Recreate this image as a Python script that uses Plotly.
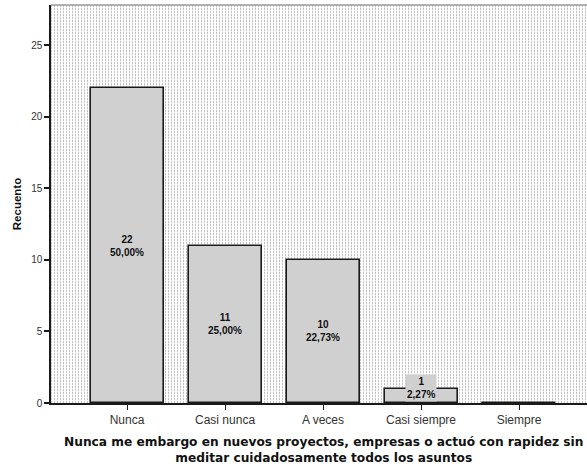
import base64
import plotly.graph_objects as go

categories = ["Nunca", "Casi nunca", "A veces", "Casi siempre", "Siempre"]
counts = [22, 11, 10, 1, 0]
percent_labels = ["50,00%", "25,00%", "22,73%", "2,27%", ""]
y_ticks = [0, 5, 10, 15, 20, 25]

W, H = 587, 466
ML, MT, MB, MR = 51, 5, 63, 0
PW, PH = W - ML - MR, H - MT - MB

# dotted background pattern (decoration)
svg = (
    f'<svg xmlns="http://www.w3.org/2000/svg" width="{PW}" height="{PH}" shape-rendering="crispEdges">'
    '<defs><pattern id="p" width="3" height="3" patternUnits="userSpaceOnUse">'
    '<rect width="3" height="3" fill="#ffffff"/>'
    '<rect x="0" y="0" width="1" height="3" fill="#ececec"/>'
    '<rect x="0" y="0" width="1" height="2" fill="#c6c6c6"/>'
    '</pattern></defs>'
    f'<rect width="{PW}" height="{PH}" fill="url(#p)"/></svg>'
)
src = "data:image/svg+xml;base64," + base64.b64encode(svg.encode()).decode()

fig = go.Figure()
fig.add_trace(go.Bar(
    x=categories, y=counts, width=0.745,
    marker=dict(color="#d0d0d0", line=dict(color="#1a1a1a", width=1.6)),
    hoverinfo="skip", showlegend=False,
))

for cat, c, p in zip(categories, counts, percent_labels):
    if c == 0:
        continue
    small = c < 2
    fig.add_annotation(
        x=cat, y=c / 2, xref="x", yref="y",
        text=f"<b>{c}<br>{p}</b>", showarrow=False,
        font=dict(family="Liberation Sans, Arial", size=10, color="#111111"),
        yshift=8 if small else 0,
        bgcolor="#d0d0d0" if small else None,
        borderpad=1,
    )

fig.add_annotation(
    x=(323 - ML) / PW, y=-0.075, xref="paper", yref="paper",
    xanchor="center", yanchor="top", showarrow=False,
    text="<b>Nunca me embargo en nuevos proyectos, empresas o actuó con rapidez sin<br>meditar cuidadosamente todos los asuntos</b>",
    font=dict(family="DejaVu Sans", size=12.2, color="#111111"),
)

fig.add_layout_image(dict(
    source=src, xref="paper", yref="paper", x=0, y=1,
    sizex=1, sizey=1, sizing="stretch", layer="below",
    xanchor="left", yanchor="top",
))
fig.add_shape(type="line", xref="paper", yref="paper", x0=0, x1=1, y0=1, y1=1,
              line=dict(color="#9a9a9a", width=1.5))

fig.update_layout(
    width=W, height=H,
    margin=dict(l=ML, r=MR, t=MT, b=MB, autoexpand=False),
    paper_bgcolor="white", plot_bgcolor="rgba(0,0,0,0)",
    font=dict(family="Liberation Sans, Arial", size=11, color="#333333"),
    bargap=0,
)
fig.update_xaxes(
    range=[-0.776, 4.694], showgrid=False, zeroline=False, automargin=False,
    showline=True, linecolor="#1a1a1a", linewidth=1.5,
    ticks="outside", ticklen=5, tickcolor="#1a1a1a", tickwidth=1,
    tickfont=dict(size=12, color="#333333"),
)
fig.update_yaxes(
    range=[0, 27.8], tickvals=y_ticks, showgrid=False, zeroline=False, automargin=False,
    showline=True, linecolor="#1a1a1a", linewidth=1.5,
    ticks="outside", ticklen=5, tickcolor="#1a1a1a", tickwidth=1.5,
    tickfont=dict(size=10, color="#333333"),
    title=dict(text="<b>Recuento</b>", font=dict(size=11.5, color="#111111"), standoff=7),
)

fig.write_html("out.html", config={"displayModeBar": False},
               post_script="document.body.style.margin='0';")
